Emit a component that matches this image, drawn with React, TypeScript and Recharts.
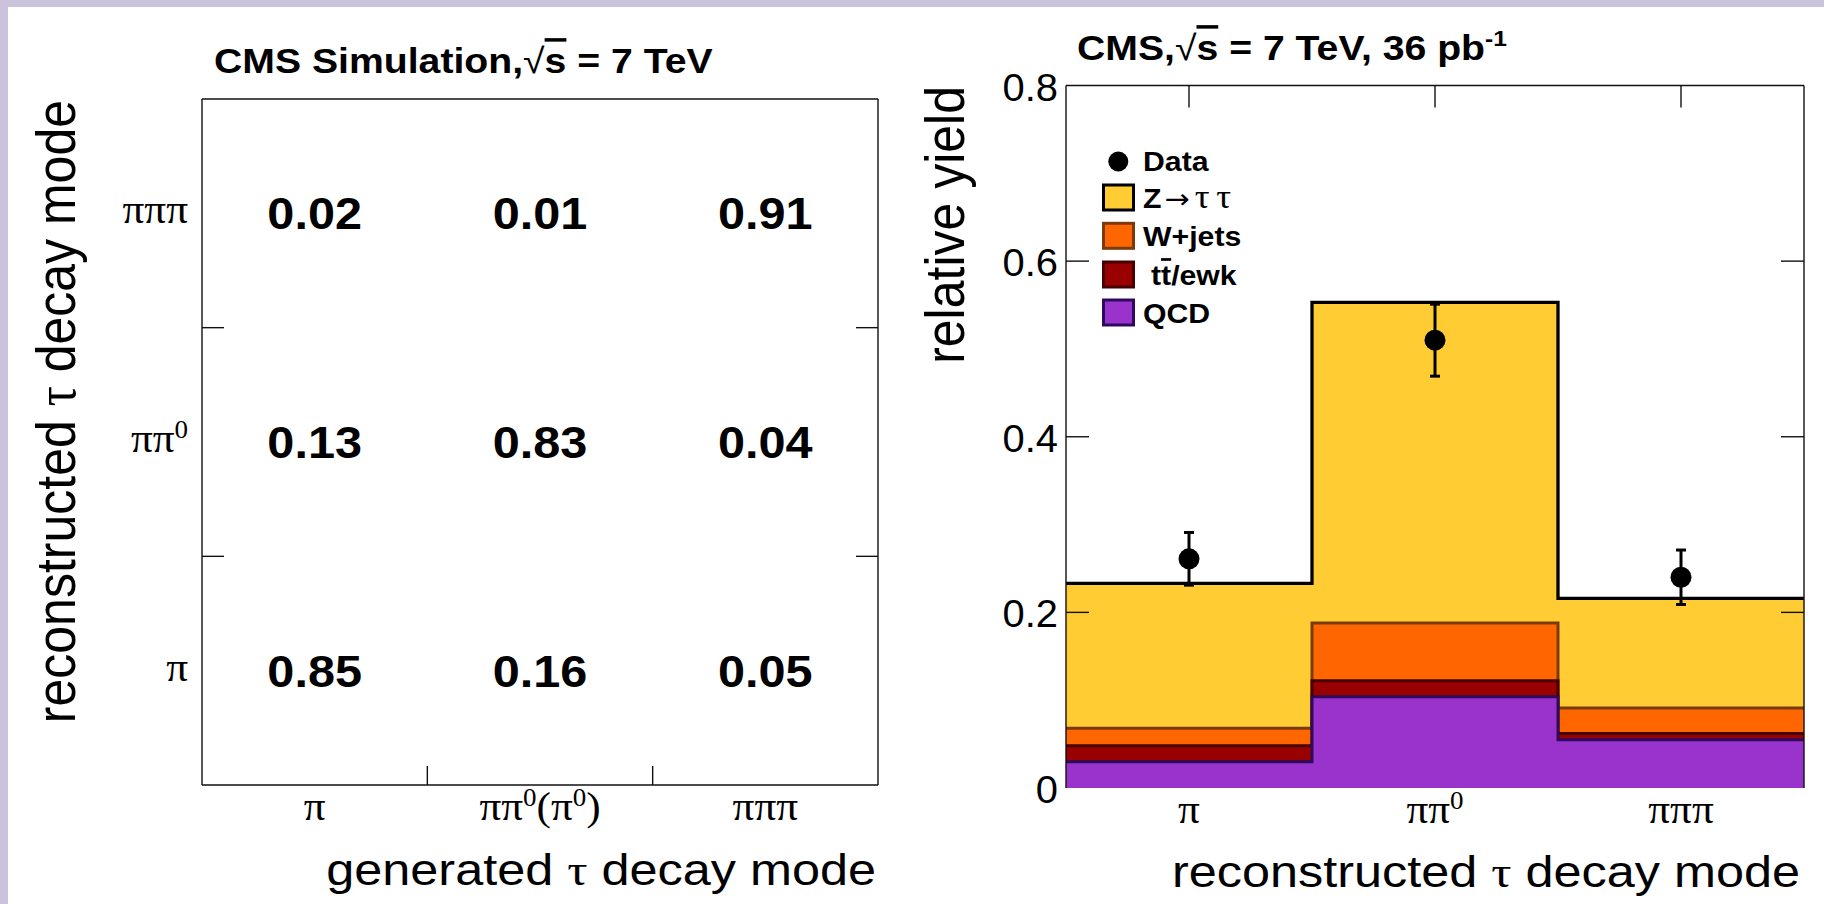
import React from 'react';
import {
  ComposedChart,
  ScatterChart,
  Scatter,
  Area,
  XAxis,
  YAxis,
  ErrorBar,
  Legend,
} from 'recharts';

// ================= DATA =================
// Left panel: tau decay-mode migration matrix (columns = generated mode)
const generatedModes = ['π', 'ππ^0(π^0)', 'πππ'];
const reconstructedModes = ['π', 'ππ^0', 'πππ'];
const fracRecoPi = [0.85, 0.16, 0.05];
const fracRecoPiPi0 = [0.13, 0.83, 0.04];
const fracRecoPiPiPi = [0.02, 0.01, 0.91];

// Right panel: relative yields per reconstructed decay mode
const binLabels = ['π', 'ππ^0', 'πππ'];
const qcdYield = [0.03, 0.104, 0.055];
const ttEwkYield = [0.018, 0.018, 0.007];
const wJetsYield = [0.02, 0.066, 0.029];
const zTauTauYield = [0.165, 0.365, 0.125];
const dataYield = [0.261, 0.51, 0.24];
const dataError = [0.03, 0.041, 0.031];
const yieldTicks = [0, 0.2, 0.4, 0.6, 0.8];
const legendLabels = ['Data', 'Z → τ τ', 'W+jets', 'tt/ewk', 'QCD'];

// ================= STYLE =================
const W = 1824;
const H = 904;
const LAVENDER = '#cbc2dd';
const SANS = '"Liberation Sans", Arial, Helvetica, sans-serif';
const SERIF = '"Liberation Serif", "Times New Roman", "DejaVu Serif", serif';
const ARROW_FONT = '"DejaVu Sans", sans-serif';
const SX = 1.12;
const FRAME = '#111';
const FW = 1.4;

const Z_FILL = '#ffcc33';
const W_FILL = '#ff6600';
const TT_FILL = '#990000';
const QCD_FILL = '#9933cc';
const Z_LINE = '#000000';
const W_LINE = '#7a3a0c';
const TT_LINE = '#470000';
const QCD_LINE = '#2e0a5e';
const legendFills = [Z_FILL, W_FILL, TT_FILL, QCD_FILL];
const legendLines = [Z_LINE, W_LINE, TT_LINE, QCD_LINE];

// ================= HELPERS =================
type HTProps = {
  x: number;
  y: number;
  size: number;
  weight?: string | number;
  anchor?: 'start' | 'middle' | 'end';
  family?: string;
  rotate?: boolean;
  sx?: number;
  children?: React.ReactNode;
};

function HText({ x, y, size, weight = 'normal', anchor = 'start', family = SANS, rotate = false, sx = SX, children }: HTProps) {
  const t = `translate(${x},${y}) scale(${sx},1)` + (rotate ? ' rotate(-90)' : '');
  return (
    <text transform={t} x={0} y={0} fontSize={size} fontWeight={weight} textAnchor={anchor} fontFamily={family} fill="#000">
      {children}
    </text>
  );
}

function mathSpans(s: string, base: number) {
  const out: React.ReactNode[] = [];
  const sup = Math.round(base * 0.62);
  const rise = Math.round(base * 0.36);
  let buf = '';
  let restore = 0;
  const flush = () => {
    if (buf) {
      out.push(
        <tspan key={out.length} dy={restore || undefined} fontSize={base}>
          {buf}
        </tspan>
      );
      buf = '';
      restore = 0;
    }
  };
  for (let i = 0; i < s.length; i++) {
    const ch = s[i];
    if (ch === '^' && i + 1 < s.length) {
      flush();
      out.push(
        <tspan key={out.length} dy={-rise + restore} fontSize={sup}>
          {s[i + 1]}
        </tspan>
      );
      restore = rise;
      i++;
    } else {
      buf += ch;
    }
  }
  flush();
  return out;
}

// ================= DERIVED TABLES =================
const matrixRows = [fracRecoPi, fracRecoPiPi0, fracRecoPiPiPi];
const matrixCells = matrixRows.flatMap((row, r) =>
  row.map((v, c) => ({ gen: c + 0.5, reco: r + 0.5, frac: v }))
);

const histRows = [0, 1, 2, 3].map((edge) => {
  const b = Math.min(edge, 2);
  const q = qcdYield[b];
  const t = q + ttEwkYield[b];
  const w = t + wJetsYield[b];
  const z = w + zTauTauYield[b];
  return { edge, qcd: q, tt: t, w, z };
});

const dataPoints = dataYield.map((v, i) => ({ edge: i + 0.5, val: v, err: dataError[i] }));

// ================= TICKS =================
const matrixXTick = (p: any) => {
  const { x, y, payload } = p;
  const v = payload.value;
  if (Number.isInteger(v)) return <line x1={x} y1={y} x2={x} y2={y - 19} stroke={FRAME} strokeWidth={FW} />;
  return (
    <HText x={x} y={y + 35} size={40} family={SERIF} anchor="middle" sx={1.08}>
      {mathSpans(generatedModes[Math.floor(v)], 40)}
    </HText>
  );
};
const matrixTopTick = (p: any) => <line x1={p.x} y1={p.y} x2={p.x} y2={p.y + 20} stroke={FRAME} strokeWidth={FW} />;
const matrixYTick = (p: any) => {
  const { x, y, payload } = p;
  const v = payload.value;
  if (Number.isInteger(v)) return <line x1={x} y1={y} x2={x + 22} y2={y} stroke={FRAME} strokeWidth={FW} />;
  return (
    <HText x={x - 14} y={y + 10} size={40} family={SERIF} anchor="end" sx={1.08}>
      {mathSpans(reconstructedModes[Math.floor(v)], 40)}
    </HText>
  );
};
const matrixRightTick = (p: any) => <line x1={p.x} y1={p.y} x2={p.x - 22} y2={p.y} stroke={FRAME} strokeWidth={FW} />;

const renderCellValue = (p: any) => (
  <HText x={p.cx} y={p.cy + 16} size={45} weight="bold" anchor="middle" sx={1.08}>
    {p.payload.frac.toFixed(2)}
  </HText>
);

const yieldXTick = (p: any) => {
  const { x, y, payload } = p;
  return (
    <HText x={x} y={y + 35} size={40} family={SERIF} anchor="middle" sx={1.08}>
      {mathSpans(binLabels[Math.floor(payload.value)], 40)}
    </HText>
  );
};
const yieldTopTick = (p: any) => <line x1={p.x} y1={p.y} x2={p.x} y2={p.y + 22} stroke={FRAME} strokeWidth={FW} />;
const yieldYTick = (p: any) => {
  const { x, y, payload } = p;
  const v = payload.value;
  return (
    <g>
      {v > 0 && v < 0.8 ? <line x1={x} y1={y} x2={x + 23} y2={y} stroke={FRAME} strokeWidth={FW} /> : null}
      <HText x={x - 8} y={y + 15} size={38} anchor="end" sx={1.05}>
        {v === 0 ? '0' : v.toFixed(1)}
      </HText>
    </g>
  );
};
const yieldRightTick = (p: any) => {
  const v = p.payload.value;
  if (!(v > 0 && v < 0.8)) return <g />;
  return <line x1={p.x} y1={p.y} x2={p.x - 23} y2={p.y} stroke={FRAME} strokeWidth={FW} />;
};

const dataMarker = (p: any) => <circle cx={p.cx} cy={p.cy} r={10.5} fill="#000" />;

// ================= LEGEND =================
const LEG_X = 1090;
const LEG_Y = 140;
const RIGHT_LEFT = 880;

function legendText(i: number, x: number, y: number) {
  const label = legendLabels[i];
  if (i === 1) {
    const parts = label.split(' ');
    return (
      <HText x={x} y={y} size={27} weight="bold">
        {parts[0]}
        <tspan fontFamily={ARROW_FONT} fontWeight="normal" dx={3}>{parts[1]}</tspan>
        <tspan fontFamily={SERIF} fontWeight="normal" fontSize={33} dx={4}>{parts[2]}</tspan>
        <tspan fontFamily={SERIF} fontWeight="normal" fontSize={33} dx={6}>{parts[3]}</tspan>
      </HText>
    );
  }
  if (i === 3) {
    return (
      <HText x={x + 8} y={y} size={27} weight="bold">
        {label.slice(0, 1)}
        <tspan style={{ textDecoration: 'overline' }}>{label.slice(1, 2)}</tspan>
        {label.slice(2)}
      </HText>
    );
  }
  return (
    <HText x={x} y={y} size={27} weight="bold">
      {label}
    </HText>
  );
}

const renderLegend = () => {
  const textX = 1143 - LEG_X;
  const rows = [197.5, 235.8, 274.5, 312.5];
  return (
    <svg width={240} height={210} style={{ display: 'block', overflow: 'visible' }}>
      <circle cx={1118.3 - LEG_X} cy={161.5 - LEG_Y} r={10} fill="#000" />
      {legendText(0, textX, 170.5 - LEG_Y)}
      {rows.map((cy, k) => (
        <g key={k}>
          <rect
            x={1103.5 - LEG_X}
            y={cy - 12.5 - LEG_Y}
            width={30}
            height={25}
            fill={legendFills[k]}
            stroke={legendLines[k]}
            strokeWidth={3}
          />
          {legendText(k + 1, textX, cy + 10 - LEG_Y)}
        </g>
      ))}
    </svg>
  );
};

// ================= APP =================
export default function App() {
  const axLine = { stroke: FRAME, strokeWidth: FW };
  return (
    <div style={{ position: 'absolute', left: 0, top: 0, width: W, height: H, background: LAVENDER, overflow: 'hidden' }}>
      <div style={{ position: 'absolute', left: 8, top: 7, width: W - 8, height: H - 7, background: '#fff' }} />

      {/* Left: migration matrix */}
      <div style={{ position: 'absolute', left: 0, top: 0 }}>
        <ScatterChart width={900} height={904} margin={{ top: 89, right: 12, bottom: 59, left: 142 }}>
          <XAxis
            xAxisId="b"
            dataKey="gen"
            type="number"
            domain={[0, 3]}
            ticks={[0.5, 1, 1.5, 2, 2.5]}
            interval={0}
            height={60}
            tickSize={0}
            tickMargin={0}
            axisLine={axLine}
            tickLine={false}
            tick={matrixXTick}
            allowDataOverflow
          />
          <XAxis
            xAxisId="t"
            orientation="top"
            type="number"
            domain={[0, 3]}
            ticks={[1, 2]}
            interval={0}
            height={10}
            tickSize={0}
            tickMargin={0}
            axisLine={axLine}
            tickLine={false}
            tick={matrixTopTick}
            allowDataOverflow
          />
          <YAxis
            yAxisId="l"
            dataKey="reco"
            type="number"
            domain={[0, 3]}
            ticks={[0.5, 1, 1.5, 2, 2.5]}
            interval={0}
            width={60}
            tickSize={0}
            tickMargin={0}
            axisLine={axLine}
            tickLine={false}
            tick={matrixYTick}
            allowDataOverflow
          />
          <YAxis
            yAxisId="r"
            orientation="right"
            type="number"
            domain={[0, 3]}
            ticks={[1, 2]}
            interval={0}
            width={10}
            tickSize={0}
            tickMargin={0}
            axisLine={axLine}
            tickLine={false}
            tick={matrixRightTick}
            allowDataOverflow
          />
          <Scatter xAxisId="b" yAxisId="l" data={matrixCells} shape={renderCellValue} isAnimationActive={false} />
        </ScatterChart>
      </div>

      {/* Right: relative yields */}
      <div style={{ position: 'absolute', left: RIGHT_LEFT, top: 0 }}>
        <ComposedChart width={944} height={904} data={histRows} margin={{ top: 75.5, right: 10, bottom: 56, left: 126 }}>
          <XAxis
            xAxisId="b"
            dataKey="edge"
            type="number"
            domain={[0, 3]}
            ticks={[0.5, 1.5, 2.5]}
            interval={0}
            height={60}
            tickSize={0}
            tickMargin={0}
            axisLine={false}
            tickLine={false}
            tick={yieldXTick}
            allowDataOverflow
          />
          <XAxis
            xAxisId="t"
            orientation="top"
            type="number"
            domain={[0, 3]}
            ticks={[0.5, 1.5, 2.5]}
            interval={0}
            height={10}
            tickSize={0}
            tickMargin={0}
            axisLine={axLine}
            tickLine={false}
            tick={yieldTopTick}
            allowDataOverflow
          />
          <YAxis
            yAxisId="l"
            type="number"
            domain={[0, 0.8]}
            ticks={yieldTicks}
            interval={0}
            width={60}
            tickSize={0}
            tickMargin={0}
            axisLine={axLine}
            tickLine={false}
            tick={yieldYTick}
            allowDataOverflow
          />
          <YAxis
            yAxisId="r"
            orientation="right"
            type="number"
            domain={[0, 0.8]}
            ticks={yieldTicks}
            interval={0}
            width={10}
            tickSize={0}
            tickMargin={0}
            axisLine={axLine}
            tickLine={false}
            tick={yieldRightTick}
            allowDataOverflow
          />
          <Area xAxisId="b" yAxisId="l" type="stepAfter" dataKey="z" fill={Z_FILL} fillOpacity={1} stroke={Z_LINE} strokeWidth={3.3} dot={false} activeDot={false} isAnimationActive={false} />
          <Area xAxisId="b" yAxisId="l" type="stepAfter" dataKey="w" fill={W_FILL} fillOpacity={1} stroke={W_LINE} strokeWidth={3} dot={false} activeDot={false} isAnimationActive={false} />
          <Area xAxisId="b" yAxisId="l" type="stepAfter" dataKey="tt" fill={TT_FILL} fillOpacity={1} stroke={TT_LINE} strokeWidth={3} dot={false} activeDot={false} isAnimationActive={false} />
          <Area xAxisId="b" yAxisId="l" type="stepAfter" dataKey="qcd" fill={QCD_FILL} fillOpacity={1} stroke={QCD_LINE} strokeWidth={3} dot={false} activeDot={false} isAnimationActive={false} />
          <Scatter xAxisId="b" yAxisId="l" data={dataPoints} dataKey="val" shape={dataMarker} isAnimationActive={false}>
            <ErrorBar dataKey="err" direction="y" width={5} stroke="#000" strokeWidth={3} isAnimationActive={false} />
          </Scatter>
          <Legend
            layout="vertical"
            align="center"
            verticalAlign="middle"
            content={renderLegend}
            wrapperStyle={{ left: LEG_X - RIGHT_LEFT, top: LEG_Y, width: 240, height: 210 }}
          />
        </ComposedChart>
      </div>

      {/* Titles */}
      <svg width={W} height={H} style={{ position: 'absolute', left: 0, top: 0, pointerEvents: 'none' }}>
        <HText x={214} y={73} size={35} weight="bold">
          CMS Simulation,
          <tspan fontWeight="normal">√</tspan>
          <tspan style={{ textDecoration: 'overline' }}>s</tspan> = 7 TeV
        </HText>
        <HText x={1077} y={60} size={35} weight="bold">
          CMS,
          <tspan fontWeight="normal">√</tspan>
          <tspan style={{ textDecoration: 'overline' }}>s</tspan> = 7 TeV, 36 pb
          <tspan fontSize={22} dy={-14}>-1</tspan>
        </HText>
        <HText x={876} y={885} size={45} anchor="end">
          generated <tspan fontFamily={SERIF}>τ</tspan> decay mode
        </HText>
        <HText x={1800} y={887} size={45} anchor="end">
          reconstructed <tspan fontFamily={SERIF}>τ</tspan> decay mode
        </HText>
        <HText x={75} y={100} size={50} anchor="end" rotate>
          reconstructed <tspan fontFamily={SERIF}>τ</tspan> decay mode
        </HText>
        <HText x={964} y={86} size={50} anchor="end" rotate>
          relative yield
        </HText>
      </svg>
    </div>
  );
}
